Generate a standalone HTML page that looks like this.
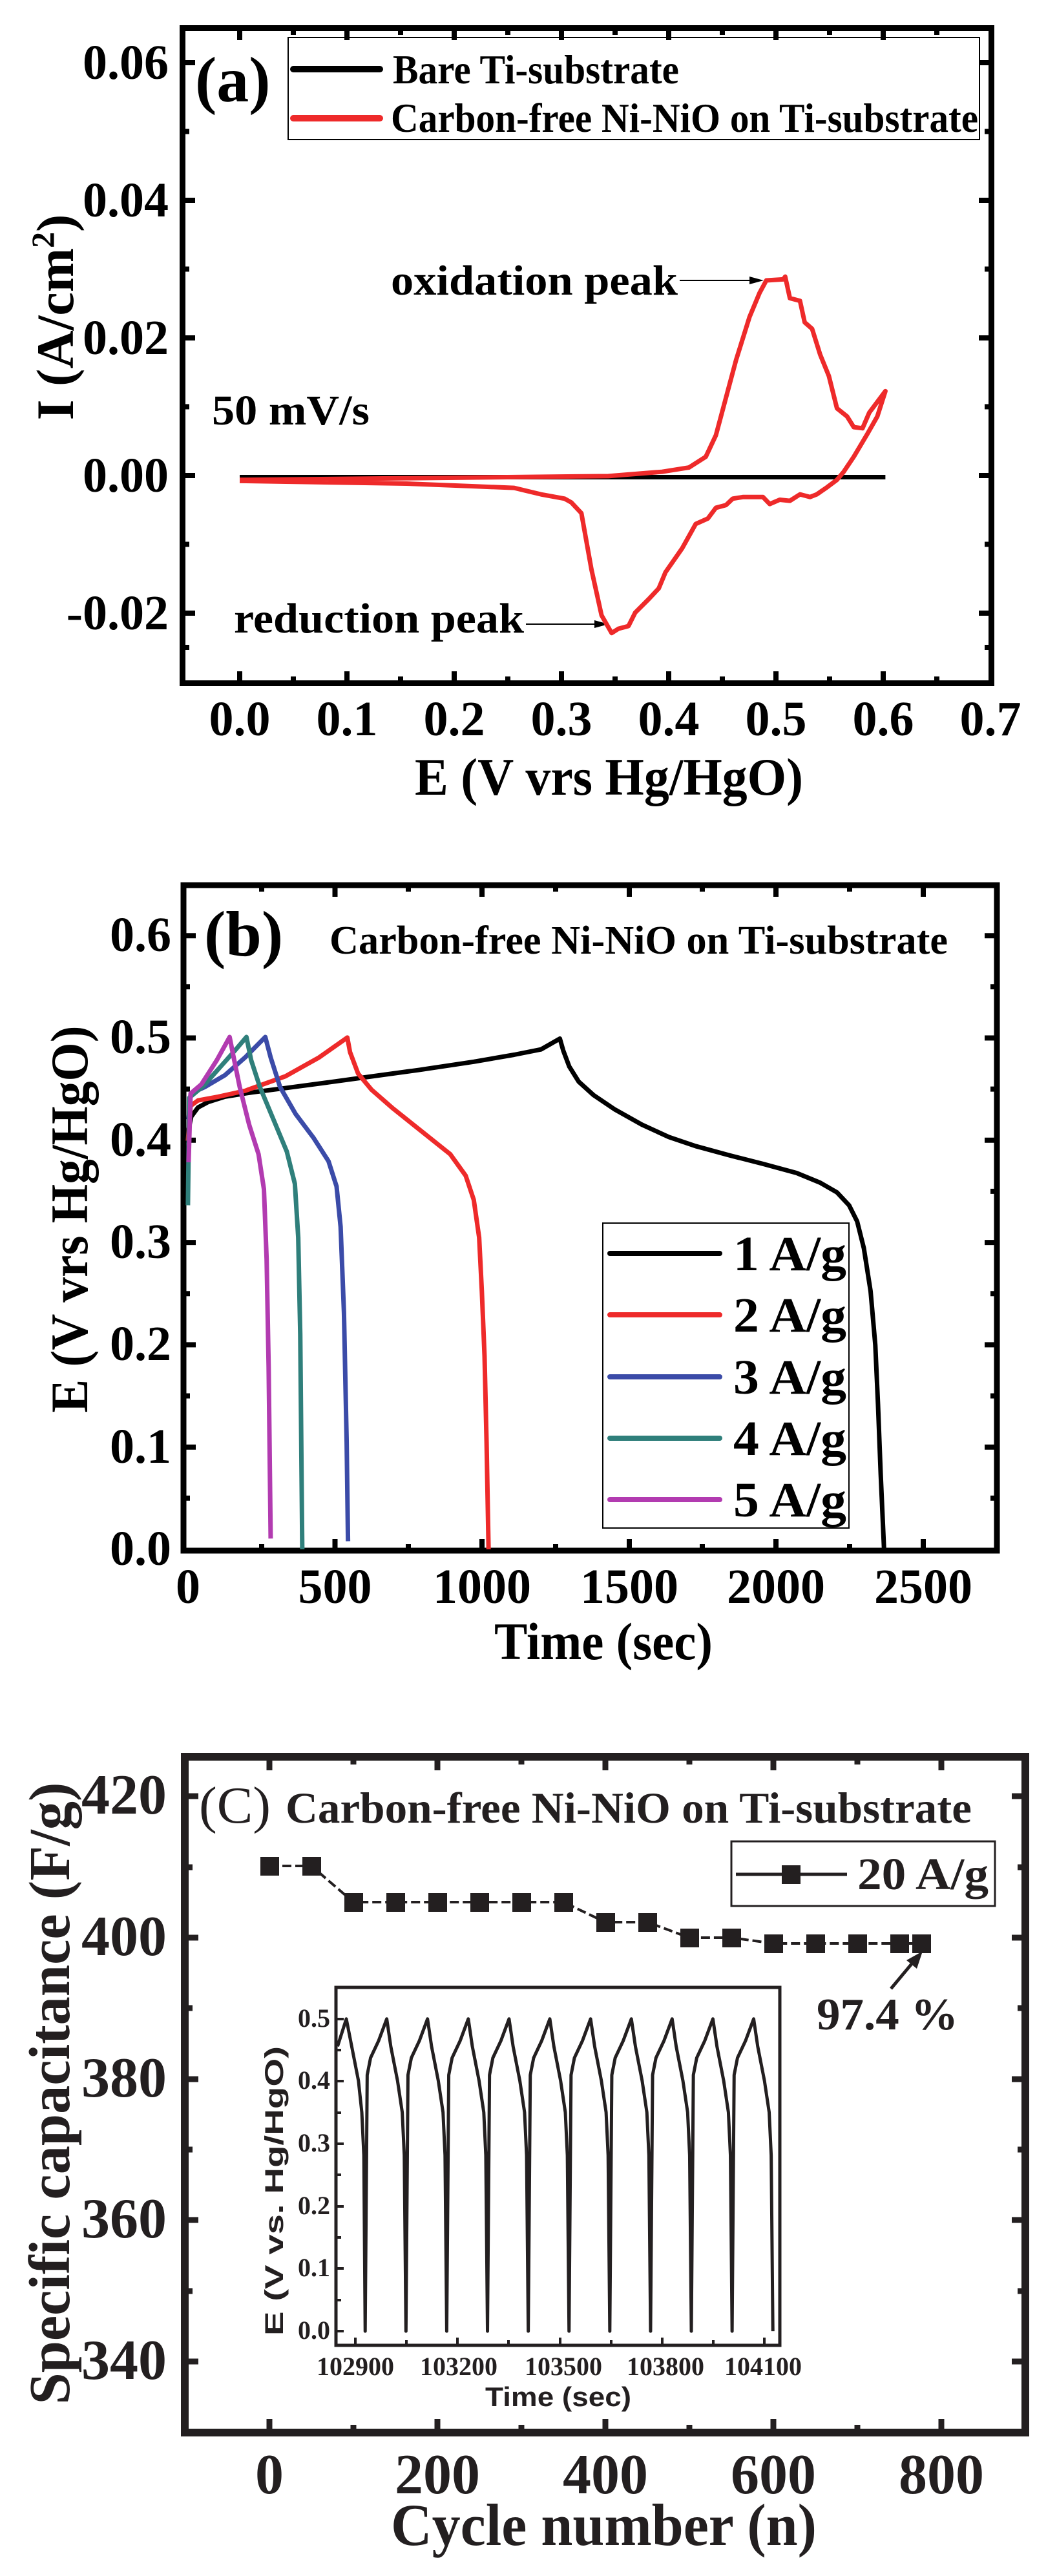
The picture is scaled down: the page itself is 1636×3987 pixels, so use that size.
<!DOCTYPE html>
<html><head><meta charset="utf-8"><style>html,body{margin:0;padding:0;background:#fff}svg{display:block;font-family:"Liberation Serif",serif;font-weight:bold}</style></head>
<body>
<svg width="1636" height="3987" viewBox="0 0 1636 3987" xmlns="http://www.w3.org/2000/svg" font-family="Liberation Serif, serif" font-weight="bold">
<!-- ============ PANEL A ============ -->
<g fill="none" stroke="#000">
<rect x="282.5" y="43.5" width="1252" height="1014" stroke-width="9"/>
<g stroke-width="8">
<path d="M371,1053V1039M537,1053V1039M703,1053V1039M869,1053V1039M1035,1053V1039M1201,1053V1039M1367,1053V1039
M371,48V62M537,48V62M703,48V62M869,48V62M1035,48V62M1201,48V62M1367,48V62"/>
<path d="M454,1053V1047M620,1053V1047M786,1053V1047M952,1053V1047M1118,1053V1047M1284,1053V1047M1450,1053V1047
M454,48V54M620,48V54M786,48V54M952,48V54M1118,48V54M1284,48V54M1450,48V54"/>
<path d="M287,97H302M287,310H302M287,523H302M287,736H302M287,949H302
M1530,97H1515M1530,310H1515M1530,523H1515M1530,736H1515M1530,949H1515"/>
<path d="M287,203.5H293M287,416.5H293M287,629.5H293M287,842.5H293M287,1002H293
M1530,203.5H1524M1530,416.5H1524M1530,629.5H1524M1530,842.5H1524M1530,1002H1524"/>
</g>
</g>
<g font-size="76" text-anchor="middle">
<text x="371" y="1138">0.0</text><text x="537" y="1138">0.1</text><text x="703" y="1138">0.2</text><text x="869" y="1138">0.3</text><text x="1035" y="1138">0.4</text><text x="1201" y="1138">0.5</text><text x="1367" y="1138">0.6</text><text x="1533" y="1138">0.7</text>
</g>
<g font-size="76" text-anchor="end">
<text x="261" y="122">0.06</text><text x="261" y="335">0.04</text><text x="261" y="548">0.02</text><text x="261" y="761">0.00</text><text x="261" y="974">-0.02</text>
</g>
<text x="642" y="1230" font-size="82" textLength="601" lengthAdjust="spacingAndGlyphs">E (V vrs Hg/HgO)</text>
<text transform="translate(113,491) rotate(-90)" font-size="82" text-anchor="middle">I (A/cm<tspan font-size="50" dy="-30">2</tspan><tspan dy="30">)</tspan></text>
<text x="302" y="157" font-size="100">(a)</text>
<rect x="446" y="58" width="1070" height="158" fill="none" stroke="#000" stroke-width="2"/>
<line x1="454" y1="107" x2="588" y2="107" stroke="#000" stroke-width="10" stroke-linecap="round"/>
<line x1="454" y1="183" x2="588" y2="183" stroke="#ee2a2a" stroke-width="10" stroke-linecap="round"/>
<text x="608" y="129" font-size="64" textLength="443" lengthAdjust="spacingAndGlyphs">Bare Ti-substrate</text>
<text x="605" y="204" font-size="64" textLength="909" lengthAdjust="spacingAndGlyphs">Carbon-free Ni-NiO on Ti-substrate</text>
<text x="605" y="456" font-size="66" textLength="444" lengthAdjust="spacingAndGlyphs">oxidation peak</text>
<line x1="1052" y1="434" x2="1165" y2="434" stroke="#000" stroke-width="2"/>
<polygon points="1182,434 1160,428 1160,440" fill="#000"/>
<text x="362" y="979" font-size="66" textLength="449" lengthAdjust="spacingAndGlyphs">reduction peak</text>
<line x1="814" y1="966" x2="925" y2="966" stroke="#000" stroke-width="2"/>
<polygon points="942,966 920,960 920,972" fill="#000"/>
<text x="328" y="657" font-size="66" textLength="244" lengthAdjust="spacingAndGlyphs">50 mV/s</text>
<g transform="matrix(1.041 0 0 0.832 4.6 -0.3)" fill="none" stroke-linejoin="round">
<path vector-effect="non-scaling-stroke" stroke="#000" stroke-width="7" d="M352,888 L1312,888"/>
<path vector-effect="non-scaling-stroke" stroke="#ee2a2a" stroke-width="7" d="M352,893 L600,890 L900,886 L980,878 L1020,870 L1045,850 L1060,810 L1075,740 L1090,670 L1110,590 L1125,545 L1135,522 L1160,520 L1163,515 L1170,555 L1185,560 L1192,600 L1203,612 L1215,660 L1228,700 L1240,760 L1255,775 L1265,795 L1278,797 L1288,768 L1312,728 L1300,775 L1285,808 L1265,850 L1250,878 L1240,893 L1225,907 L1210,920 L1200,925 L1185,920 L1170,932 L1155,930 L1140,938 L1130,925 L1100,925 L1085,928 L1075,940 L1060,945 L1048,965 L1030,975 L1010,1020 L985,1065 L975,1095 L960,1115 L940,1140 L930,1165 L915,1170 L905,1178 L890,1145 L875,1060 L860,955 L845,935 L835,928 L800,920 L760,908 L700,905 L600,900 L450,897 L352,895"/>
</g>

<!-- ============ PANEL B ============ -->
<g fill="none" stroke="#000">
<rect x="284" y="1370" width="1259" height="1030" stroke-width="9"/>
<g stroke-width="8">
<path d="M518.5,2396V2382M746,2396V2382M974,2396V2382M1201,2396V2382M1429,2396V2382
M518.5,1374V1388M746,1374V1388M974,1374V1388M1201,1374V1388M1429,1374V1388"/>
<path d="M405,2396V2390M632,2396V2390M860,2396V2390M1087,2396V2390M1315,2396V2390
M405,1374V1380M632,1374V1380M860,1374V1380M1087,1374V1380M1315,1374V1380"/>
<path d="M288,2239.7H303M288,2081.4H303M288,1923.1H303M288,1764.8H303M288,1606.5H303M288,1448.2H303
M1539,2239.7H1524M1539,2081.4H1524M1539,1923.1H1524M1539,1764.8H1524M1539,1606.5H1524M1539,1448.2H1524"/>
<path d="M288,2318.8H294M288,2160.5H294M288,2002.2H294M288,1843.9H294M288,1685.6H294M288,1527.3H294
M1539,2318.8H1533M1539,2160.5H1533M1539,2002.2H1533M1539,1843.9H1533M1539,1685.6H1533M1539,1527.3H1533"/>
</g>
</g>
<g font-size="76" text-anchor="end">
<text x="265" y="2422">0.0</text><text x="265" y="2264">0.1</text><text x="265" y="2105">0.2</text><text x="265" y="1947">0.3</text><text x="265" y="1789">0.4</text><text x="265" y="1630">0.5</text><text x="265" y="1472">0.6</text>
</g>
<g font-size="76" text-anchor="middle">
<text x="291" y="2481">0</text><text x="518.5" y="2481">500</text><text x="746" y="2481">1000</text><text x="974" y="2481">1500</text><text x="1201" y="2481">2000</text><text x="1429" y="2481">2500</text>
</g>
<text x="765" y="2568" font-size="82" textLength="338" lengthAdjust="spacingAndGlyphs">Time (sec)</text>
<text transform="translate(135,1887) rotate(-90)" font-size="82" text-anchor="middle" textLength="599" lengthAdjust="spacingAndGlyphs">E (V vrs Hg/HgO)</text>
<text x="316" y="1479" font-size="100">(b)</text>
<text x="510" y="1476" font-size="62" textLength="957" lengthAdjust="spacingAndGlyphs">Carbon-free Ni-NiO on Ti-substrate</text>
<rect x="933" y="1893" width="381" height="472" fill="none" stroke="#000" stroke-width="2"/>
<g stroke-width="8" stroke-linecap="round">
<line x1="944" y1="1940" x2="1114" y2="1940" stroke="#000"/>
<line x1="944" y1="2035" x2="1114" y2="2035" stroke="#ee2a2a"/>
<line x1="944" y1="2131" x2="1114" y2="2131" stroke="#3b4ba8"/>
<line x1="944" y1="2226" x2="1114" y2="2226" stroke="#2f7f7b"/>
<line x1="944" y1="2321" x2="1114" y2="2321" stroke="#b23bb0"/>
</g>
<g font-size="76">
<text x="1135" y="1966" textLength="175" lengthAdjust="spacingAndGlyphs">1 A/g</text>
<text x="1135" y="2061" textLength="175" lengthAdjust="spacingAndGlyphs">2 A/g</text>
<text x="1135" y="2157" textLength="175" lengthAdjust="spacingAndGlyphs">3 A/g</text>
<text x="1135" y="2252" textLength="175" lengthAdjust="spacingAndGlyphs">4 A/g</text>
<text x="1135" y="2347" textLength="175" lengthAdjust="spacingAndGlyphs">5 A/g</text>
</g>
<g transform="matrix(1.041 0 0 0.832 4.6 1299.7)" fill="none" stroke-linejoin="round">
<path vector-effect="non-scaling-stroke" stroke="#000" stroke-width="7" d="M275,545 L280,515 L290,498 L305,488 L330,478 L370,470 L420,462 L480,452 L550,440 L620,428 L700,413 L760,400 L800,390 L828,370 L833,392 L842,422 L856,450 L878,475 L910,502 L950,530 L990,553 L1030,570 L1080,587 L1130,603 L1180,620 L1215,638 L1240,656 L1258,680 L1270,710 L1280,760 L1290,840 L1297,940 L1301,1050 L1305,1180 L1310,1320"/>
<path vector-effect="non-scaling-stroke" stroke="#ee2a2a" stroke-width="7" d="M275,560 L279,495 L290,485 L320,478 L360,467 L420,440 L470,405 L512,368 L516,395 L528,435 L548,465 L580,500 L625,545 L665,585 L688,625 L700,670 L708,740 L712,840 L716,960 L719,1120 L722,1320"/>
<path vector-effect="non-scaling-stroke" stroke="#3b4ba8" stroke-width="7" d="M276,520 L279,472 L300,460 L330,438 L360,405 L390,367 L398,405 L412,460 L435,510 L462,555 L484,598 L496,645 L502,720 L507,880 L511,1120 L513,1305"/>
<path vector-effect="non-scaling-stroke" stroke="#2f7f7b" stroke-width="7" d="M275,680 L277,480 L298,458 L325,420 L345,392 L362,367 L369,410 L382,460 L402,520 L422,580 L434,640 L439,740 L442,920 L445,1320"/>
<path vector-effect="non-scaling-stroke" stroke="#b23bb0" stroke-width="7" d="M276,600 L279,472 L295,455 L318,410 L337,367 L343,405 L352,460 L366,530 L380,585 L388,650 L392,780 L395,980 L398,1300"/>
</g>

<!-- ============ PANEL C ============ -->
<g fill="none" stroke="#231f20">
<rect x="286" y="2719" width="1301" height="1046" stroke-width="12"/>
<g stroke-width="9">
<path d="M417,3759V3744M677,3759V3744M937,3759V3744M1197,3759V3744M1457,3759V3744
M417,2725V2740M677,2725V2740M937,2725V2740M1197,2725V2740M1457,2725V2740"/>
<path d="M547,3759V3753M807,3759V3753M1067,3759V3753M1327,3759V3753
M547,2725V2731M807,2725V2731M1067,2725V2731M1327,2725V2731"/>
<path d="M292,3655H307M292,3436H307M292,3218H307M292,2999H307M292,2780H307
M1581,3655H1566M1581,3436H1566M1581,3218H1566M1581,2999H1566M1581,2780H1566"/>
<path d="M292,3546H298M292,3327H298M292,3108H298M292,2890H298
M1581,3546H1575M1581,3327H1575M1581,3108H1575M1581,2890H1575"/>
</g>
</g>
<g font-size="88" text-anchor="end" fill="#231f20">
<text x="258" y="3682">340</text><text x="258" y="3463">360</text><text x="258" y="3245">380</text><text x="258" y="3026">400</text><text x="258" y="2807">420</text>
</g>
<g font-size="88" text-anchor="middle" fill="#231f20">
<text x="417" y="3859">0</text><text x="677" y="3859">200</text><text x="937" y="3859">400</text><text x="1197" y="3859">600</text><text x="1457" y="3859">800</text>
</g>
<text x="605" y="3939" font-size="92" fill="#231f20" textLength="659" lengthAdjust="spacingAndGlyphs">Cycle number (n)</text>
<text transform="translate(107,3240) rotate(-90)" font-size="90" fill="#231f20" text-anchor="middle" textLength="963" lengthAdjust="spacingAndGlyphs">Specific capacitance (F/g)</text>
<text x="308" y="2821" font-size="80" font-weight="normal" fill="#231f20" textLength="111" lengthAdjust="spacingAndGlyphs">(C)</text>
<text x="442" y="2821" font-size="68" fill="#231f20" textLength="1062" lengthAdjust="spacingAndGlyphs">Carbon-free Ni-NiO on Ti-substrate</text>
<rect x="1132" y="2850" width="408" height="100" fill="none" stroke="#231f20" stroke-width="3"/>
<line x1="1139" y1="2901" x2="1311" y2="2901" stroke="#231f20" stroke-width="5"/>
<rect x="1210" y="2887" width="29" height="29" fill="#231f20"/>
<text x="1327" y="2924" font-size="70" fill="#231f20" textLength="203" lengthAdjust="spacingAndGlyphs">20 A/g</text>
<path d="M417,2888 L482,2888 L547,2944 L612,2944 L677,2944 L742,2944 L807,2944 L872,2944 L937,2975 L1002,2975 L1067,2999 L1132,2999 L1197,3008 L1262,3008 L1327,3008 L1392,3008 L1426,3008" fill="none" stroke="#231f20" stroke-width="4" stroke-dasharray="14,6"/>
<g fill="#231f20">
<rect x="403" y="2874" width="29" height="29"/><rect x="468" y="2874" width="29" height="29"/>
<rect x="533" y="2930" width="29" height="29"/><rect x="598" y="2930" width="29" height="29"/><rect x="663" y="2930" width="29" height="29"/><rect x="728" y="2930" width="29" height="29"/><rect x="793" y="2930" width="29" height="29"/><rect x="858" y="2930" width="29" height="29"/>
<rect x="923" y="2961" width="29" height="29"/><rect x="988" y="2961" width="29" height="29"/>
<rect x="1053" y="2985" width="29" height="29"/><rect x="1118" y="2985" width="29" height="29"/>
<rect x="1183" y="2994" width="29" height="29"/><rect x="1248" y="2994" width="29" height="29"/><rect x="1313" y="2994" width="29" height="29"/><rect x="1378" y="2994" width="29" height="29"/><rect x="1412" y="2994" width="29" height="29"/>
</g>
<text x="1264" y="3141" font-size="70" fill="#231f20" textLength="219" lengthAdjust="spacingAndGlyphs">97.4 %</text>
<line x1="1379" y1="3078" x2="1414" y2="3036" stroke="#231f20" stroke-width="5"/>
<polygon points="1428,3020 1403,3034 1419,3047" fill="#231f20"/>
<!-- inset -->
<rect x="520" y="3076" width="687" height="554" fill="none" stroke="#231f20" stroke-width="5"/>
<g stroke="#231f20" stroke-width="4">
<path d="M522,3608H532M522,3511H532M522,3415H532M522,3318H532M522,3221H532M522,3125H532"/>
<path d="M522,3560H528M522,3463H528M522,3366H528M522,3270H528M522,3173H528"/>
<path d="M550,3628V3618M708,3628V3618M867,3628V3618M1025,3628V3618M1183,3628V3618"/>
<path d="M629,3628V3622M787,3628V3622M946,3628V3622M1104,3628V3622"/>
</g>
<g font-size="40" text-anchor="end" fill="#231f20">
<text x="511" y="3620">0.0</text><text x="511" y="3523">0.1</text><text x="511" y="3427">0.2</text><text x="511" y="3330">0.3</text><text x="511" y="3233">0.4</text><text x="511" y="3137">0.5</text>
</g>
<g font-size="40" text-anchor="middle" fill="#231f20">
<text x="550" y="3676">102900</text><text x="710" y="3676">103200</text><text x="872" y="3676">103500</text><text x="1030" y="3676">103800</text><text x="1181" y="3676">104100</text>
</g>
<text x="751" y="3724" font-family="Liberation Sans, sans-serif" style="font-family:'Liberation Sans',sans-serif" font-size="42" fill="#231f20" textLength="226" lengthAdjust="spacingAndGlyphs">Time (sec)</text>
<text transform="translate(438,3391) rotate(-90)" font-family="Liberation Sans, sans-serif" style="font-family:'Liberation Sans',sans-serif" font-size="40" fill="#231f20" text-anchor="middle" textLength="448" lengthAdjust="spacingAndGlyphs">E (V vs. Hg/HgO)</text>
<g transform="matrix(1.043 0 0 0.887 2 2599.6)" fill="none">
<path vector-effect="non-scaling-stroke" stroke="#231f20" stroke-width="5" stroke-linejoin="round" d="M499,640 L512,592 L520,640 L530,700 L535,755 L538,830 L540,1137
l3,-447 l5,-30 l12,-30 l12,-38 l6,48 l10,60 l7,55 l3,75 l2.5,307
l3,-447 l5,-30 l12,-30 l12,-38 l6,48 l10,60 l7,55 l3,75 l2.5,307
l3,-447 l5,-30 l12,-30 l12,-38 l6,48 l10,60 l7,55 l3,75 l2.5,307
l3,-447 l5,-30 l12,-30 l12,-38 l6,48 l10,60 l7,55 l3,75 l2.5,307
l3,-447 l5,-30 l12,-30 l12,-38 l6,48 l10,60 l7,55 l3,75 l2.5,307
l3,-447 l5,-30 l12,-30 l12,-38 l6,48 l10,60 l7,55 l3,75 l2.5,307
l3,-447 l5,-30 l12,-30 l12,-38 l6,48 l10,60 l7,55 l3,75 l2.5,307
l3,-447 l5,-30 l12,-30 l12,-38 l6,48 l10,60 l7,55 l3,75 l2.5,307
l3,-447 l5,-30 l12,-30 l12,-38 l6,48 l10,60 l7,55 l3,75 l2.5,307
l3,-447 l5,-30 l12,-30 l12,-38 l6,48 l10,60 l7,55 l3,75 l2.5,307"/>
</g>
</svg>
</body></html>
